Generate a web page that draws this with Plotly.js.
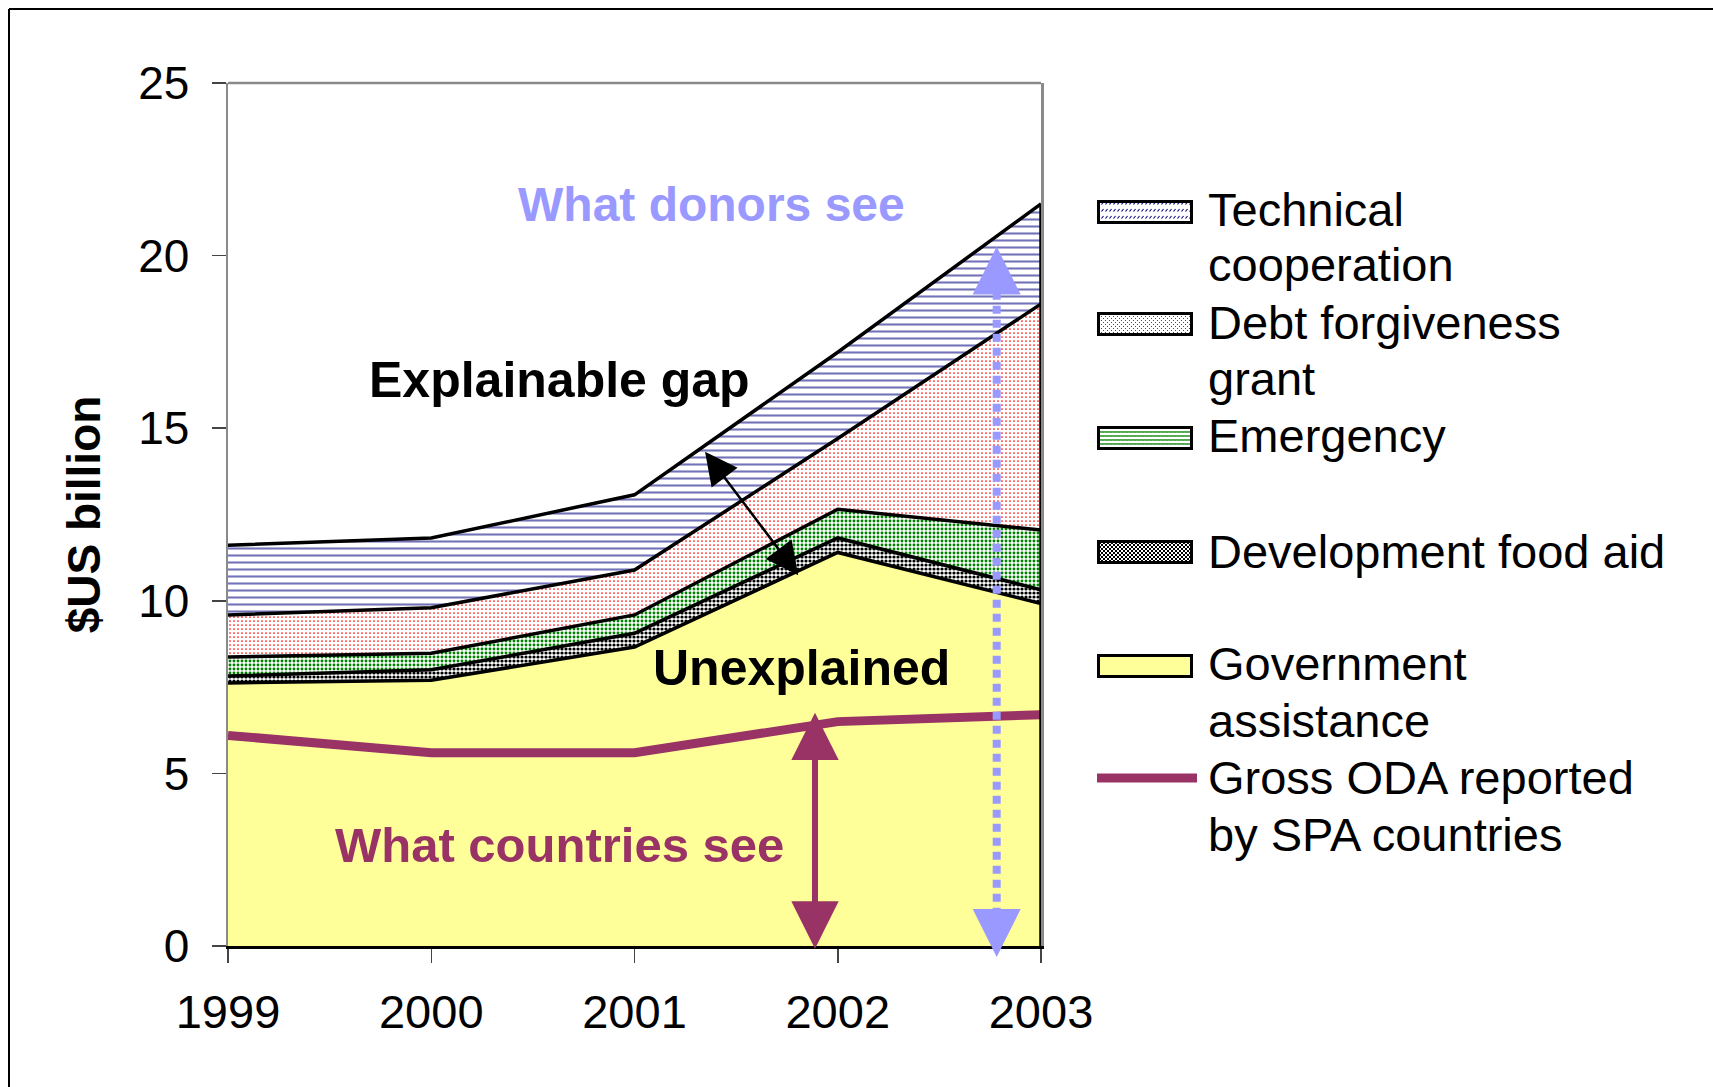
<!DOCTYPE html>
<html>
<head>
<meta charset="utf-8">
<script src="https://cdn.plot.ly/plotly-3.0.1.min.js"></script>
<style>
html, body { margin: 0; padding: 0; background: #ffffff; }
#chart { width: 1713px; height: 1087px; }
</style>
</head>
<body>
<div id="chart"></div>
<script>
// ---------------- data ----------------
const years = [1999, 2000, 2001, 2002, 2003];
const yearLabels = ['1999', '2000', '2001', '2002', '2003'];
const governmentAssistance = [7.62, 7.70, 8.66, 11.40, 9.92];
const developmentFoodAid   = [0.20, 0.30, 0.40, 0.42, 0.40];
const emergency            = [0.55, 0.48, 0.53, 0.83, 1.73];
const debtForgiveness      = [1.22, 1.32, 1.30, 2.05, 6.55];
const technicalCooperation = [2.02, 2.02, 2.18, 2.50, 2.90];
const grossODA             = [6.10, 5.60, 5.60, 6.50, 6.70];
const yTickValues = [0, 5, 10, 15, 20, 25];
const legendLines = [
  ['Technical', 209], ['cooperation', 264],
  ['Debt forgiveness', 322], ['grant', 378],
  ['Emergency', 436],
  ['Development food aid', 551],
  ['Government', 663], ['assistance', 720],
  ['Gross ODA reported', 777], ['by SPA countries', 834]
];

// ---------------- geometry helpers ----------------
const W = 1713, H = 1087;
const M = { l: 228, r: 672, t: 83, b: 141 };
const plotW = W - M.l - M.r, plotH = H - M.t - M.b;
const px2paperX = px => (px - M.l) / plotW;
const px2paperY = py => (H - M.b - py) / plotH;

const FONT = 'Liberation Sans, Arial, Helvetica, sans-serif';
const PURPLE = '#993366';
const LILAC = '#9999FF';

// totals at the last year (for the right-hand outline of the stack)
const last = years.length - 1;
const total2003 = governmentAssistance[last] + developmentFoodAid[last] + emergency[last] +
                  debtForgiveness[last] + technicalCooperation[last];

// ---------------- traces ----------------
const edge = { color: '#000000', width: 3.5 };
const traces = [
  { name: 'Government assistance', x: years, y: governmentAssistance, type: 'scatter', mode: 'lines',
    stackgroup: 'aid', line: edge, fillcolor: '#FFFF99', showlegend: false },
  { name: 'Development food aid', x: years, y: developmentFoodAid, type: 'scatter', mode: 'lines',
    stackgroup: 'aid', line: edge, fillcolor: '#ffffff',
    fillpattern: { shape: '.', size: 4, solidity: 0.5, fgcolor: '#000000', bgcolor: '#ffffff' },
    showlegend: false },
  { name: 'Emergency', x: years, y: emergency, type: 'scatter', mode: 'lines',
    stackgroup: 'aid', line: edge, fillcolor: '#ffffff',
    fillpattern: { shape: '.', size: 4, solidity: 0.42, fgcolor: '#008000', bgcolor: '#ffffff' },
    showlegend: false },
  { name: 'Debt forgiveness grant', x: years, y: debtForgiveness, type: 'scatter', mode: 'lines',
    stackgroup: 'aid', line: edge, fillcolor: '#ffffff',
    fillpattern: { shape: '.', size: 4, solidity: 0.14, fgcolor: '#FF0000', bgcolor: '#ffffff' },
    showlegend: false },
  { name: 'Technical cooperation', x: years, y: technicalCooperation, type: 'scatter', mode: 'lines',
    stackgroup: 'aid', line: edge, fillcolor: '#ffffff',
    fillpattern: { shape: '-', size: 7, solidity: 0.3, fgcolor: '#000080', fgopacity: 0.55, bgcolor: '#ffffff' },
    showlegend: false },
  { name: 'Gross ODA reported by SPA countries', x: years, y: grossODA, type: 'scatter', mode: 'lines',
    line: { color: PURPLE, width: 9 }, showlegend: false }
];

// ---------------- legend swatches (SVG patterns) ----------------
function swatch(bg, patternW, patternH, content) {
  const svg = '<svg xmlns="http://www.w3.org/2000/svg" width="96" height="24" viewBox="0 0 96 24">' +
    '<defs><pattern id="p" width="' + patternW + '" height="' + patternH + '" patternUnits="userSpaceOnUse">' +
    content + '</pattern></defs>' +
    '<rect width="96" height="24" fill="' + bg + '"/>' +
    (content ? '<rect width="96" height="24" fill="url(#p)"/>' : '') +
    '<rect x="1.5" y="1.5" width="93" height="21" fill="none" stroke="#000" stroke-width="3"/></svg>';
  return 'data:image/svg+xml;charset=utf-8,' + encodeURIComponent(svg);
}
const swTech = swatch('#ffffff', 4, 7, '<path d="M0.5,4.5 L2.5,2" stroke="#000080" stroke-width="1.1"/>');
const swDebt = swatch('#ffffff', 4, 4, '<rect x="0" y="0" width="1" height="1" fill="#ff0000"/><rect x="2" y="2" width="1" height="1" fill="#ff0000"/>');
const swEmer = swatch('#ffffff', 4, 4, '<path d="M0,3 L1,1 L2,3 L3,1 L4,3" stroke="#008000" stroke-width="0.8" fill="none"/>');
const swFood = swatch('#ffffff', 4, 4, '<rect x="0" y="0" width="2" height="2" fill="#000"/><rect x="2" y="2" width="2" height="2" fill="#000"/>');
const swGov  = swatch('#FFFF99', 4, 4, '');

const swLeft = 1097, swW = 96, swH = 24;
function legendImage(src, topPx) {
  return { source: src, xref: 'paper', yref: 'paper', x: px2paperX(swLeft), y: px2paperY(topPx),
           sizex: swW / plotW, sizey: swH / plotH, xanchor: 'left', yanchor: 'top',
           sizing: 'stretch', layer: 'above' };
}
const images = [
  legendImage(swTech, 200),
  legendImage(swDebt, 312),
  legendImage(swEmer, 426),
  legendImage(swFood, 540),
  legendImage(swGov, 654)
];

// ---------------- annotations ----------------
const textX = px2paperX(1206);
function legendText(text, centerPx) {
  return { text: text, xref: 'paper', yref: 'paper', x: textX, y: px2paperY(centerPx),
           xanchor: 'left', yanchor: 'middle', align: 'left', showarrow: false,
           font: { family: FONT, size: 47, color: '#000000' } };
}
function label(text, x, y, color, size) {
  return { text: '<b>' + text + '</b>', x: x, y: y, xref: 'x', yref: 'y', showarrow: false,
           xanchor: 'center', yanchor: 'middle', font: { family: FONT, size: size, color: color } };
}
const annotations = [
  label('What donors see', 2001.381, 21.47, LILAC, 48),
  label('Explainable gap', 2000.63, 16.4, '#000000', 50),
  label('Unexplained', 2001.824, 8.04, '#000000', 50),
  label('What countries see', 2000.63, 2.94, PURPLE, 49),
  // black double arrow (explainable gap)
  { text: '', x: 2001.347, y: 14.32, ax: 2001.811, ay: 10.70, xref: 'x', yref: 'y', axref: 'x', ayref: 'y',
    showarrow: true, arrowside: 'end+start', arrowhead: 2, startarrowhead: 2,
    arrowwidth: 2.5, arrowsize: 2.6, startarrowsize: 2.6, arrowcolor: '#000000', standoff: 0, startstandoff: 0 },
  // purple double arrow (what countries see)
  { text: '', x: 2001.888, y: 6.76, ax: 2001.888, ay: -0.12, xref: 'x', yref: 'y', axref: 'x', ayref: 'y',
    showarrow: true, arrowside: 'end+start', arrowhead: 2, startarrowhead: 2,
    arrowwidth: 6, arrowsize: 1.58, startarrowsize: 1.58, arrowcolor: PURPLE, standoff: 0, startstandoff: 0 },
  // lilac arrow heads (what donors see)
  { text: '', x: 2002.782, y: 20.26, xref: 'x', yref: 'y', ax: 0, ay: 40,
    showarrow: true, arrowhead: 2, arrowwidth: 3, arrowsize: 3.2, arrowcolor: LILAC, standoff: 0 },
  { text: '', x: 2002.782, y: px2paperY(957), xref: 'x', yref: 'paper', ax: 0, ay: -40,
    showarrow: true, arrowhead: 2, arrowwidth: 3, arrowsize: 3.2, arrowcolor: LILAC, standoff: 0 }
].concat(legendLines.map(l => legendText(l[0], l[1])));

// ---------------- shapes ----------------
const shapes = [
  // plot-area border (top)
  { type: 'line', xref: 'paper', yref: 'paper', x0: 0, x1: 1, y0: 1, y1: 1,
    line: { color: '#8a8a8a', width: 2.5 }, layer: 'above' },
  // right outline of the stacked areas
  { type: 'line', xref: 'x', yref: 'y', x0: years[last], x1: years[last], y0: 0, y1: total2003,
    line: { color: '#000000', width: 3.5 }, layer: 'above' },
  // lilac dotted shaft
  { type: 'line', xref: 'x', yref: 'y', x0: 2002.782, x1: 2002.782, y0: 18.95, y1: 0.95,
    line: { color: LILAC, width: 8, dash: '8px,6px' }, layer: 'above' },
  // outer frame of the figure (top and left)
  { type: 'line', xref: 'paper', yref: 'paper', x0: px2paperX(9), x1: px2paperX(W), y0: px2paperY(9), y1: px2paperY(9),
    line: { color: '#000000', width: 2 } },
  { type: 'line', xref: 'paper', yref: 'paper', x0: px2paperX(9), x1: px2paperX(9), y0: px2paperY(9), y1: px2paperY(H),
    line: { color: '#000000', width: 2 } },
  // legend line for Gross ODA
  { type: 'line', xref: 'paper', yref: 'paper', x0: px2paperX(1097), x1: px2paperX(1197),
    y0: px2paperY(778), y1: px2paperY(778), line: { color: PURPLE, width: 9 } }
];

const layout = {
  width: W, height: H,
  margin: M,
  paper_bgcolor: '#ffffff', plot_bgcolor: '#ffffff',
  font: { family: FONT, size: 46, color: '#000000' },
  showlegend: false,
  xaxis: {
    range: [1999, 2003], tickvals: years, ticktext: yearLabels,
    showgrid: false, zeroline: false,
    showline: true, linecolor: '#000000', linewidth: 3,
    ticks: 'outside', ticklen: 14, tickwidth: 1.5, tickcolor: '#444444',
    tickfont: { family: FONT, size: 47, color: '#000000' },
    ticklabelstandoff: 9
  },
  yaxis: {
    range: [0, 25], tickvals: yTickValues,
    showgrid: false, zeroline: false,
    showline: true, linecolor: '#8a8a8a', linewidth: 2.5, mirror: true,
    ticks: 'outside', ticklen: 14, tickwidth: 1.5, tickcolor: '#444444',
    tickfont: { family: FONT, size: 46, color: '#000000' },
    ticklabelstandoff: 13,
    title: { text: '<b>$US billion</b>', font: { family: FONT, size: 46, color: '#000000' }, standoff: 23 }
  },
  annotations: annotations,
  shapes: shapes,
  images: images
};

Plotly.newPlot('chart', traces, layout, { staticPlot: true, displayModeBar: false });
</script>
</body>
</html>
